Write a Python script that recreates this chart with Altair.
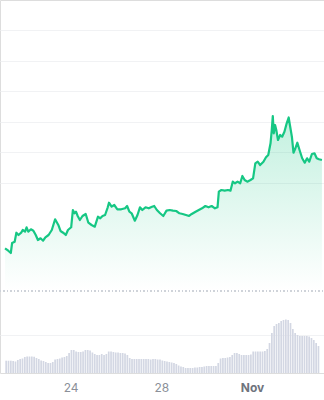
import altair as alt
import pandas as pd

START = pd.Timestamp("2023-10-21 00:00")

# price series: hours since Oct 21 00:00, price (arbitrary units)
price_hours = [
    2.6, 6.0, 8.7, 10.1, 12.8, 14.6, 16.9, 19.7, 21.3, 23.8, 25.4, 27.2, 30.0, 32.6,
    35.1, 37.4, 40.2, 42.9, 45.3, 48.7, 52.1, 55.6, 59.0, 61.3, 64.1, 66.9, 69.2, 72.6,
    74.4, 76.1, 77.7, 79.5, 81.8, 84.6, 88.0, 90.8, 94.2, 97.6, 101.0, 103.4, 105.8,
    108.5, 111.3, 112.6, 115.4, 118.2, 121.5, 125.6, 129.7, 131.8, 134.2, 136.6, 140.0,
    142.8, 145.4, 147.9, 151.3, 154.7, 158.2, 160.5, 163.3, 166.7, 170.1, 173.5, 176.9,
    180.3, 183.8, 187.2, 190.6, 194.1, 197.4, 200.2, 204.3, 207.7, 211.1, 214.6, 218.0,
    221.3, 224.8, 227.5, 228.9, 231.6, 235.1, 238.5, 241.2, 243.6, 246.0, 248.7, 251.5,
    253.8, 256.2, 259.0, 262.4, 265.1, 267.5, 270.0, 272.6, 276.1, 278.8, 281.2, 283.6,
    284.9, 286.0, 287.0, 288.4, 289.7, 291.5, 293.8, 295.9, 298.3, 300.7, 302.8, 304.1,
    306.2, 307.9, 309.5, 312.0, 314.3, 317.1, 319.8, 322.3, 324.6, 327.4, 330.1, 332.5,
    334.9, 338.0,
]
price_vals = [
    48.59, 47.80, 47.05, 50.33, 50.75, 53.70, 52.95, 53.70, 54.59, 54.03, 55.48, 54.03,
    54.82, 54.36, 52.95, 51.31, 51.87, 51.08, 52.20, 52.95, 54.59, 58.10, 56.23, 54.26,
    53.70, 52.95, 54.59, 55.48, 61.15, 60.07, 60.59, 59.18, 57.87, 59.18, 59.84, 56.98,
    56.23, 55.67, 58.95, 58.43, 59.18, 59.51, 62.03, 63.54, 62.23, 62.79, 61.38, 61.38,
    61.70, 62.46, 60.59, 60.07, 57.64, 59.51, 62.03, 61.15, 62.03, 61.70, 62.23, 62.46,
    61.15, 60.07, 59.18, 60.92, 61.15, 60.92, 60.82, 60.07, 59.84, 59.51, 59.18, 59.84,
    60.59, 61.15, 61.70, 62.46, 62.03, 62.46, 61.70, 62.03, 67.15, 67.70, 67.48, 67.70,
    67.48, 70.43, 69.90, 70.43, 69.90, 72.30, 70.98, 70.43, 70.98, 71.54, 76.46, 76.98,
    75.90, 76.98, 78.43, 79.18, 83.02, 87.38, 91.97, 86.30, 89.02, 87.38, 84.10, 85.74,
    85.18, 86.82, 89.57, 91.48, 89.02, 85.18, 79.93, 81.05, 83.21, 80.82, 78.10, 76.66,
    78.10, 76.98, 79.51, 79.74, 78.10, 77.77, 77.54,
]

# volume bars (arbitrary units), one every 148 minutes from Oct 21 03:48
vol_values = [
    12.3, 12.3, 12.3, 12.0, 11.5, 13.0, 14.0, 14.5, 16.0, 16.5, 16.5, 16.5, 16.3, 15.0,
    14.0, 12.5, 12.0, 11.0, 10.0, 10.0, 11.0, 13.5, 14.0, 14.5, 15.5, 16.0, 17.0, 20.0,
    23.0, 23.0, 21.5, 21.0, 21.0, 21.5, 23.0, 23.0, 22.5, 20.5, 19.0, 18.0, 18.0, 19.0,
    18.0, 19.0, 21.5, 21.5, 21.0, 20.5, 20.5, 20.0, 20.0, 19.5, 18.0, 15.0, 14.0, 14.0,
    14.0, 14.0, 14.0, 14.0, 14.0, 14.0, 13.5, 14.0, 14.0, 13.5, 13.5, 12.5, 12.0, 11.5,
    11.0, 10.5, 10.0, 9.0, 7.5, 6.5, 6.0, 5.0, 5.0, 5.0, 5.0, 5.5, 5.5, 6.0, 6.0, 6.5,
    7.0, 7.0, 7.0, 7.0, 7.0, 10.0, 14.5, 15.0, 15.0, 15.5, 16.0, 18.0, 20.0, 20.0, 19.0,
    18.0, 18.0, 18.0, 18.0, 18.5, 21.5, 21.5, 21.5, 21.5, 21.5, 22.0, 24.0, 30.0, 40.0,
    47.0, 49.0, 50.0, 52.0, 53.0, 53.5, 53.0, 50.0, 44.0, 40.0, 38.0, 37.0, 37.0, 37.0,
    37.0, 36.5, 35.0, 33.0, 30.0, 27.0,
]

price_grid = [70, 80, 90, 100, 110, 120]
price_domain = [7.7, 130]
area_base = 34.9
vol_grid = [38]
vol_domain = [0, 373]

price_df = pd.DataFrame({
    "t": START + pd.to_timedelta(price_hours, unit="h"),
    "price": price_vals,
})
vol_df = pd.DataFrame({
    "t": pd.date_range(START + pd.Timedelta(minutes=228), periods=len(vol_values), freq="148min"),
    "vol": vol_values,
})

x_scale = alt.Scale(domain=[
    alt.DateTime(year=2023, month=10, date=21, hours=2, minutes=34),
    alt.DateTime(year=2023, month=11, date=3, hours=22, minutes=54),
])

x_axis = alt.Axis(
    values=[
        alt.DateTime(year=2023, month=10, date=24),
        alt.DateTime(year=2023, month=10, date=28),
        alt.DateTime(year=2023, month=11, date=1),
    ],
    labelExpr="date(datum.value) == 1 ? timeFormat(datum.value, '%b') : timeFormat(datum.value, '%-d')",
    labelFontWeight={"condition": {"test": "date(datum.value) == 1", "value": "bold"}, "value": "normal"},
    labelColor={"condition": {"test": "date(datum.value) == 1", "value": "#6f747d"}, "value": "#8b9099"},
    grid=False, ticks=False, tickSize=0, domain=False, title=None,
    labelPadding=9, labelFontSize=12, labelFont="Inter",
)

price_axis = alt.Axis(
    orient="left", values=price_grid, grid=True, labels=False, ticks=False,
    domain=False, title=None, gridColor="#f1f2f4", gridWidth=1,
)
vol_axis = alt.Axis(
    orient="right", values=vol_grid, grid=True, labels=False, ticks=False,
    domain=False, title=None, gridColor="#f1f2f4", gridWidth=1,
)

area = alt.Chart(price_df).mark_area(
    clip=True,
    color=alt.Gradient(
        gradient="linear",
        stops=[
            alt.GradientStop(color="rgba(22,199,132,0.26)", offset=0),
            alt.GradientStop(color="rgba(22,199,132,0.0)", offset=1),
        ],
        x1=1, x2=1, y1=0, y2=1,
    ),
).encode(
    x=alt.X("t:T", scale=x_scale, axis=x_axis),
    y=alt.Y("price:Q", scale=alt.Scale(domain=price_domain, nice=False, zero=False), axis=price_axis),
    y2=alt.datum(area_base),
)

line = alt.Chart(price_df).mark_line(clip=True, color="#16c784", strokeWidth=2.2, strokeJoin="round").encode(
    x=alt.X("t:T", scale=x_scale),
    y=alt.Y("price:Q", scale=alt.Scale(domain=price_domain, nice=False, zero=False)),
)

sep = alt.Chart(price_df).mark_rule(color="#cdd1d8", strokeWidth=1, strokeDash=[1, 2.5]).encode(
    x=alt.value(0), x2=alt.value(324), y=alt.value(291),
)

bars = alt.Chart(vol_df).mark_bar(clip=True, size=1.7, color="#d3d7e3").encode(
    x=alt.X("t:T", scale=x_scale),
    y=alt.Y("vol:Q", scale=alt.Scale(domain=vol_domain, nice=False), axis=vol_axis),
)

price_layer = alt.layer(area, line)
chart = alt.layer(price_layer, sep, bars).resolve_scale(y="independent").properties(
    width=324, height=373,
    padding={"left": 0, "top": 0, "right": 0, "bottom": 27},
    autosize=alt.AutoSizeParams(type="none"),
).configure_view(stroke=None).configure(background="white")

chart.save("out.html", embed_options={"renderer": "svg", "actions": False})
